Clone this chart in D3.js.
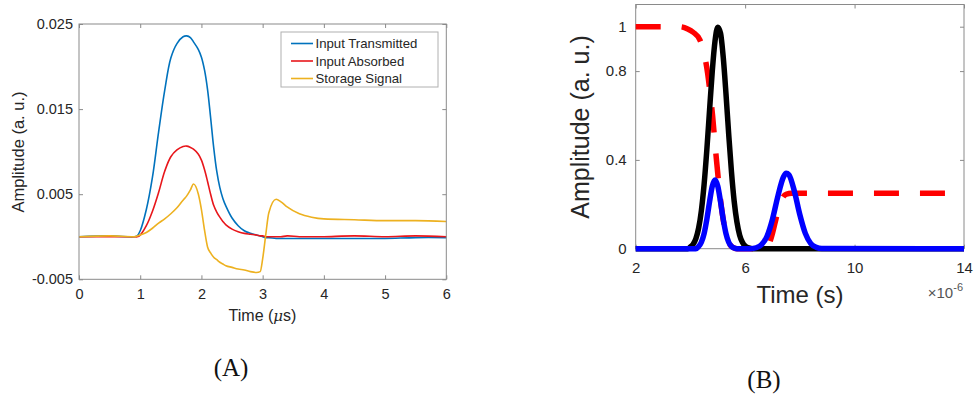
<!DOCTYPE html>
<html>
<head>
<meta charset="utf-8">
<script src="https://cdn.jsdelivr.net/npm/d3@7/dist/d3.min.js"></script>
<style>
  html, body { margin: 0; padding: 0; background: #fff; }
  svg { display: block; }
  text { font-family: "Liberation Sans", Arial, Helvetica, sans-serif; fill: #262626; }
</style>
</head>
<body>
<svg id="chart" width="979" height="399"></svg>
<script>
// ---------------- Panel A data (time in microseconds) ----------------
const timeA = [0, 0.5, 0.9, 0.95, 1.0, 1.1, 1.2, 1.3, 1.4, 1.5, 1.6, 1.7, 1.76, 1.82, 1.87, 1.95, 2.0, 2.05, 2.1, 2.15, 2.2, 2.25,
               2.3, 2.35, 2.4, 2.5, 2.6, 2.7, 2.8, 2.9, 2.96, 3.0, 3.05, 3.1, 3.22, 3.3, 3.4, 3.6, 3.8, 4.0, 4.5, 5.0, 5.5, 6.0];
const inputTransmitted = [0, 0.0001, 0, 0.0001, 0.0007, 0.0032, 0.0070, 0.0123, 0.0172, 0.0210, 0.0227, 0.0235, 0.0236, 0.0234, 0.0229, 0.0220, 0.0211, 0.0196, 0.0173, 0.0140, 0.0105, 0.0077,
               0.0058, 0.0045, 0.0036, 0.0022, 0.0013, 0.0007, 0.0004, 0.0002, 0.0001, 0.0000, -0.0001, -0.0001, -0.0002, -0.0002, -0.0002, -0.0002, -0.0002, -0.0002, -0.0002, -0.0002, -0.0001, -0.0001];
const inputAbsorbed = [0, 0, 0, 0, 0.0002, 0.0013, 0.0030, 0.0052, 0.0077, 0.0094, 0.0102, 0.0106, 0.01065, 0.0105, 0.0103, 0.0097, 0.0090, 0.0079, 0.0065, 0.0050, 0.0037, 0.0029,
               0.0023, 0.0018, 0.0014, 0.0009, 0.0006, 0.0004, 0.0003, 0.0002, 0.0001, 0.0001, 0, 0, 0, 0, 0.0001, 0, 0, 0, 0.0001, 0, 0.0001, 0];
const storageSignal = [0, 0.0001, 0, 0.0001, 0.0002, 0.0005, 0.0010, 0.0016, 0.0021, 0.0027, 0.0034, 0.0043, 0.0048, 0.0055, 0.0062, 0.0050, 0.0032, 0.0008, -0.0012, -0.0019, -0.0024, -0.0027,
               -0.0030, -0.0032, -0.0034, -0.0036, -0.0038, -0.0039, -0.0041, -0.0042, -0.0041, -0.0026, 0.0002, 0.0028, 0.0044, 0.0041, 0.0035, 0.0027, 0.0023, 0.0021, 0.0020, 0.0019, 0.0019, 0.0018];
const seriesA = ["Input Transmitted", "Input Absorbed", "Storage Signal"];
const xTicksA = [0, 1, 2, 3, 4, 5, 6];
const yTicksA = [-0.005, 0.005, 0.015, 0.025];

// ---------------- Panel B data (time in units of 1e-6 s) ----------------
const timeRed = [2, 3.0, 3.6, 3.9, 4.1, 4.35, 4.5, 4.63, 4.72, 4.81, 4.9, 4.96, 5.1, 5.2, 5.3, 5.4, 5.5, 5.7, 6.6, 6.8, 6.9, 7.0, 7.1, 7.2, 7.3, 7.4, 7.5, 7.7, 8.0, 14];
const controlRed = [1, 1, 1, 0.99, 0.975, 0.94, 0.88, 0.79, 0.70, 0.60, 0.47, 0.39, 0.22, 0.13, 0.07, 0.03, 0.01, 0, 0, 0.01, 0.03, 0.07, 0.12, 0.17, 0.21, 0.235, 0.245, 0.25, 0.25, 0.25];
const timeBlack = [2, 3.9, 4.0, 4.1, 4.2, 4.3, 4.4, 4.5, 4.6, 4.7, 4.8, 4.9, 5.0, 5.1, 5.2, 5.3, 5.4, 5.5, 5.6, 5.7, 5.8, 5.9, 6.0, 6.1, 6.2, 6.3, 14];
const inputBlack = [0, 0, 0.0084, 0.0205, 0.0456, 0.0926, 0.171, 0.289, 0.445, 0.625, 0.801, 0.936, 0.998, 0.971, 0.862, 0.698, 0.515, 0.347, 0.213, 0.120, 0.061, 0.029, 0.012, 0.0047, 0.0016, 0, 0];
const timeBlue = [2, 4.2, 4.3, 4.4, 4.5, 4.6, 4.7, 4.8, 4.9, 5.0, 5.1, 5.2, 5.3, 5.4, 5.5, 5.6, 5.7, 6.2, 6.4, 6.6, 6.8, 7.0, 7.2, 7.4, 7.5, 7.6, 7.8, 8.0, 8.2, 8.4, 8.6, 8.8, 14];
const outputBlue = [0, 0, 0.010, 0.029, 0.068, 0.132, 0.212, 0.282, 0.31, 0.282, 0.212, 0.132, 0.068, 0.029, 0.010, 0.003, 0, 0, 0.0044, 0.018, 0.056, 0.133, 0.238, 0.323, 0.34, 0.333, 0.259, 0.153, 0.069, 0.023, 0.006, 0.001, 0];
const xTicksB = [2, 6, 10, 14];
const yTicksB = [0, 0.4, 0.8, 1];

// ---------------- Drawing ----------------
const svg = d3.select("#chart");
svg.append("rect").attr("width", 979).attr("height", 399).attr("fill", "#fff");

const textColor = "#262626";
const boxColor = "#8a8a8a";

function drawFrame(g, x, y, xt, yt, tickLen, xFmt, yFmt, xPad, yPad, fontSize) {
  const [x0, x1] = x.range();
  const [y0, y1] = y.range(); // y0 bottom, y1 top
  g.append("g").attr("transform", `translate(0,${y0})`)
    .call(d3.axisBottom(x).tickValues(xt).tickSize(-tickLen).tickPadding(xPad).tickFormat(xFmt));
  g.append("g").attr("transform", `translate(0,${y1})`)
    .call(d3.axisTop(x).tickValues(xt).tickSize(-tickLen).tickFormat(""));
  g.append("g").attr("transform", `translate(${x0},0)`)
    .call(d3.axisLeft(y).tickValues(yt).tickSize(-tickLen).tickPadding(yPad).tickFormat(yFmt));
  g.append("g").attr("transform", `translate(${x1},0)`)
    .call(d3.axisRight(y).tickValues(yt).tickSize(-tickLen).tickFormat(""));
  g.selectAll(".domain").remove();
  g.selectAll(".tick line").attr("stroke", boxColor).attr("stroke-width", 1);
  g.selectAll(".tick text").attr("fill", textColor).style("font-size", fontSize + "px")
    .style("font-family", '"Liberation Sans", Arial, sans-serif');
  g.append("rect").attr("x", x0).attr("y", y1).attr("width", x1 - x0).attr("height", y0 - y1)
    .attr("fill", "none").attr("stroke", boxColor).attr("stroke-width", 1);
}

// ---- Panel A ----
const xA = d3.scaleLinear().domain([0, 6]).range([79, 446.3]);
const yA = d3.scaleLinear().domain([-0.005, 0.025]).range([279.3, 24]);
const gA = svg.append("g");

const colorsA = ["#0072BD", "#E8161B", "#EDB120"];
const valuesA = [inputTransmitted, inputAbsorbed, storageSignal];
const curvesA = [d3.curveCatmullRom.alpha(0.5), d3.curveCatmullRom.alpha(0.5), d3.curveMonotoneX];
valuesA.forEach((vals, i) => {
  const lineA = d3.line().x(d => xA(d[0])).y(d => yA(d[1])).curve(curvesA[i]);
  gA.append("path")
    .datum(timeA.map((t, j) => [t, vals[j]]))
    .attr("d", lineA).attr("fill", "none")
    .attr("stroke", colorsA[i]).attr("stroke-width", 1.6).attr("stroke-linejoin", "round");
});
drawFrame(gA, xA, yA, xTicksA, yTicksA, 4, d3.format("d"), d => d3.format(".3f")(d).replace("\u2212", "-"), 9, 6, 14.5);

// legend A
const legA = gA.append("g");
legA.append("rect").attr("x", 281).attr("y", 32).attr("width", 157).attr("height", 55)
  .attr("fill", "#fff").attr("stroke", "#b0b0b0").attr("stroke-width", 1);
seriesA.forEach((name, i) => {
  const yy = 43.5 + i * 17.5;
  legA.append("line").attr("x1", 291).attr("x2", 313).attr("y1", yy).attr("y2", yy)
    .attr("stroke", colorsA[i]).attr("stroke-width", 1.6);
  legA.append("text").attr("x", 315.5).attr("y", yy).attr("dy", "0.35em")
    .style("font-size", "13.2px").text(name);
});

// axis labels A
const xlabA = gA.append("text").attr("x", 262.5).attr("y", 321).attr("text-anchor", "middle").style("font-size", "16px");
xlabA.append("tspan").text("Time (");
xlabA.append("tspan").style("font-family", '"DejaVu Serif", serif').style("font-style", "italic").style("font-size", "15px").text("\u03BC");
xlabA.append("tspan").text("s)");
gA.append("text").attr("transform", "translate(24,152) rotate(-90)").attr("text-anchor", "middle")
  .style("font-size", "16.5px").text("Amplitude (a. u.)");
gA.append("text").attr("x", 231).attr("y", 376).attr("text-anchor", "middle")
  .style("font-family", '"Liberation Serif", "Times New Roman", serif').style("font-size", "25px").style("fill", "#111").text("(A)");

// ---- Panel B ----
const xB = d3.scaleLinear().domain([2, 14]).range([635.7, 964]);
const yB = d3.scaleLinear().domain([0, 1.1]).range([248.7, 4.5]);
const gB = svg.append("g");
drawFrame(gB, xB, yB, xTicksB, yTicksB, 4, d3.format("d"), d => String(d), 13.5, 9, 15);

const lineB = d3.line().x(d => xB(d[0])).y(d => yB(d[1])).curve(d3.curveMonotoneX);
gB.append("path").datum(timeRed.map((t, j) => [t, controlRed[j]]))
  .attr("d", lineB).attr("fill", "none").attr("stroke", "#FF0000").attr("stroke-width", 5.5)
  .attr("stroke-dasharray", "25,21");
gB.append("path").datum(timeBlack.map((t, j) => [t, inputBlack[j]]))
  .attr("d", lineB).attr("fill", "none").attr("stroke", "#000").attr("stroke-width", 5.5).attr("stroke-linejoin", "round");
gB.append("path").datum(timeBlue.map((t, j) => [t, outputBlue[j]]))
  .attr("d", lineB).attr("fill", "none").attr("stroke", "#0000FF").attr("stroke-width", 5.5).attr("stroke-linejoin", "round");

gB.append("text").attr("x", 800).attr("y", 303).attr("text-anchor", "middle").style("font-size", "24px").text("Time (s)");
gB.append("text").attr("transform", "translate(589,127) rotate(-90)").attr("text-anchor", "middle")
  .style("font-size", "25px").text("Amplitude (a. u.)");
const expo = gB.append("text").attr("x", 963).attr("y", 298).attr("text-anchor", "end").style("font-size", "15px").style("fill", "#555");
expo.append("tspan").text("\u00D710");
expo.append("tspan").attr("dy", -7).style("font-size", "11px").text("-6");
gB.append("text").attr("x", 764).attr("y", 388).attr("text-anchor", "middle")
  .style("font-family", '"Liberation Serif", "Times New Roman", serif').style("font-size", "25px").style("fill", "#111").text("(B)");
</script>
</body>
</html>
